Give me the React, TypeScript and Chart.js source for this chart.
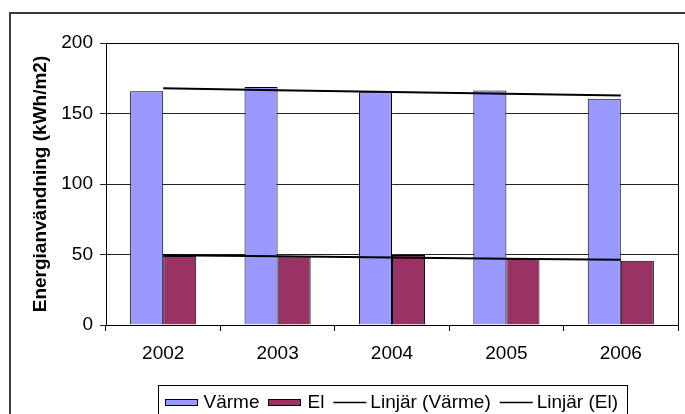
import React, { useEffect, useRef } from 'react';
import { Chart, registerables } from 'chart.js';

Chart.register(...registerables);

const years = ['2002', '2003', '2004', '2005', '2006'];
const varme = [165.7, 168.8, 165.0, 166.4, 160.5];
const el = [48.9, 48.5, 49.6, 46.8, 45.6];
const yMin = 0;
const yMax = 200;
const yStep = 50;
const seriesLabels = ['Värme', 'El', 'Linjär (Värme)', 'Linjär (El)'];
const yTitle = 'Energianvändning (kWh/m2)';

const FONT = '"Liberation Sans", Arial, Helvetica, sans-serif';

// Least-squares linear trend of a series (as Excel's "Linjär" trendline)
function linearTrend(values: number[]): number[] {
  const n = values.length;
  const mx = (n - 1) / 2;
  const my = values.reduce((a, b) => a + b, 0) / n;
  let num = 0;
  let den = 0;
  values.forEach((v, i) => {
    num += (i - mx) * (v - my);
    den += (i - mx) * (i - mx);
  });
  const slope = num / den;
  return values.map((_, i) => my + slope * (i - mx));
}

const outerBorderPlugin = {
  id: 'outerBorder',
  beforeDraw(chart: any) {
    const ctx = chart.ctx;
    ctx.save();
    ctx.strokeStyle = '#3a3a3a';
    ctx.lineWidth = 2;
    ctx.strokeRect(10, 13, chart.width + 50, chart.height + 50);
    ctx.restore();
  },
};

const framePlugin = {
  id: 'plotFrame',
  afterDatasetsDraw(chart: any) {
    const { ctx, chartArea: a } = chart;
    ctx.save();
    ctx.strokeStyle = '#000';
    ctx.lineWidth = 1;
    ctx.beginPath();
    ctx.moveTo(Math.round(a.left), Math.round(a.top) + 0.5);
    ctx.lineTo(Math.round(a.right) + 0.5, Math.round(a.top) + 0.5);
    ctx.lineTo(Math.round(a.right) + 0.5, Math.round(a.bottom));
    ctx.stroke();
    ctx.restore();
  },
};

const boxLegendPlugin = {
  id: 'boxLegend',
  afterDraw(chart: any) {
    const { ctx, chartArea: a } = chart;
    const ds = chart.data.datasets;
    ctx.save();
    ctx.font = `19px ${FONT}`;
    const sw = 33;
    const gapRect = 6;
    const gapLine = 4;
    const between = 9;
    const widths = ds.map(
      (d: any) => sw + (d.type === 'line' ? gapLine : gapRect) + ctx.measureText(d.label).width
    );
    const content = widths.reduce((s: number, w: number) => s + w, 0) + between * (ds.length - 1);
    const padL = 6;
    const padR = 9;
    const boxW = padL + content + padR;
    const cx = (a.left + a.right) / 2;
    const boxLeft = Math.round(cx - boxW / 2) + 0.5;
    const boxTop = chart.height - 29 + 0.5;
    ctx.strokeStyle = '#000';
    ctx.lineWidth = 1;
    ctx.strokeRect(boxLeft, boxTop, Math.round(boxW), 60);
    const cy = boxTop + 17;
    let x = boxLeft + padL;
    ds.forEach((d: any, i: number) => {
      if (d.type === 'line') {
        ctx.strokeStyle = d.borderColor;
        ctx.lineWidth = 1.5;
        ctx.beginPath();
        ctx.moveTo(x, cy);
        ctx.lineTo(x + sw, cy);
        ctx.stroke();
      } else {
        ctx.fillStyle = d.backgroundColor;
        ctx.fillRect(Math.round(x), Math.round(cy - 4), sw, 7);
        ctx.strokeStyle = '#000';
        ctx.lineWidth = 1;
        ctx.strokeRect(Math.round(x) + 0.5, Math.round(cy - 4) + 0.5, sw - 1, 6);
      }
      const tx = x + sw + (d.type === 'line' ? gapLine : gapRect);
      ctx.fillStyle = '#000';
      ctx.textBaseline = 'middle';
      ctx.textAlign = 'left';
      ctx.fillText(d.label, tx, cy);
      x += widths[i] + between;
    });
    ctx.restore();
  },
};

export default function App() {
  const canvasRef = useRef<HTMLCanvasElement | null>(null);

  useEffect(() => {
    if (!canvasRef.current) return;
    const chart = new Chart(canvasRef.current, {
      type: 'bar',
      data: {
        labels: years,
        datasets: [
          {
            type: 'bar',
            label: seriesLabels[0],
            data: varme,
            backgroundColor: '#9999FF',
            borderColor: '#000000',
            borderWidth: 1,
            order: 2,
          },
          {
            type: 'bar',
            label: seriesLabels[1],
            data: el,
            backgroundColor: '#993366',
            borderColor: '#000000',
            borderWidth: 1,
            order: 2,
          },
          {
            type: 'line',
            label: seriesLabels[2],
            data: linearTrend(varme),
            borderColor: '#000000',
            backgroundColor: '#000000',
            borderWidth: 2,
            pointRadius: 0,
            fill: false,
            tension: 0,
            order: 1,
          },
          {
            type: 'line',
            label: seriesLabels[3],
            data: linearTrend(el),
            borderColor: '#000000',
            backgroundColor: '#000000',
            borderWidth: 2,
            pointRadius: 0,
            fill: false,
            tension: 0,
            order: 1,
          },
        ] as any,
      },
      options: {
        responsive: false,
        animation: false,
        events: [],
        layout: { padding: { top: 43, right: 7, bottom: 0, left: 0 } },
        datasets: {
          bar: { categoryPercentage: 0.578, barPercentage: 1 },
        },
        plugins: {
          legend: { display: false },
          tooltip: { enabled: false },
          title: { display: false },
        },
        scales: {
          x: {
            offset: true,
            grid: {
              offset: true,
              drawOnChartArea: false,
              drawTicks: true,
              tickLength: 6,
              color: '#000',
            },
            border: { display: true, color: '#000', width: 1 },
            ticks: {
              color: '#000',
              font: { family: FONT, size: 19 },
              padding: 11,
              maxRotation: 0,
              autoSkip: false,
            },
            afterFit(scale: any) {
              scale.height = 89;
            },
          },
          y: {
            min: yMin,
            max: yMax,
            grid: {
              color: '#222',
              lineWidth: 1,
              drawTicks: true,
              tickLength: 6,
            },
            border: { display: true, color: '#000', width: 1 },
            ticks: {
              stepSize: yStep,
              color: '#000',
              font: { family: FONT, size: 19 },
              padding: 7,
            },
            title: {
              display: true,
              text: yTitle,
              color: '#000',
              font: { family: FONT, size: 19, weight: 'bold' },
              padding: { top: 29, bottom: 0 },
            },
            afterFit(scale: any) {
              scale.width = 106;
            },
          },
        },
      } as any,
      plugins: [outerBorderPlugin, framePlugin, boxLegendPlugin],
    });
    return () => chart.destroy();
  }, []);

  return (
    <div style={{ position: 'fixed', left: 0, top: 0, width: 685, height: 414, background: '#fff' }}>
      <canvas ref={canvasRef} width={685} height={414} style={{ display: 'block' }} />
    </div>
  );
}
